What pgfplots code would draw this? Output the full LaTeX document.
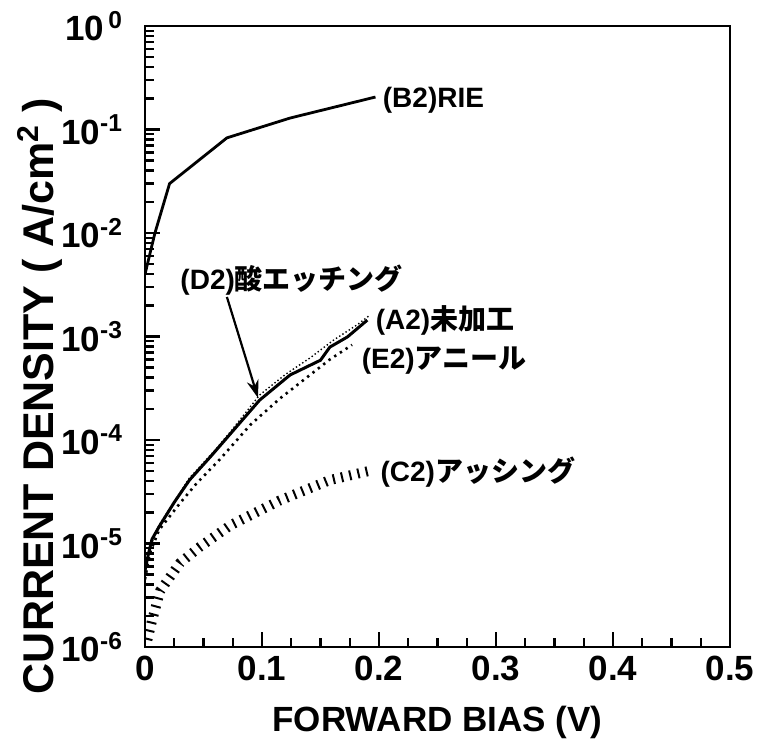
\documentclass[border=0pt]{standalone}
\usepackage{pgfplots}
\pgfplotsset{compat=1.18}
\usepackage{fontspec}
\setmainfont{Liberation Sans}
\newfontfamily\jp{Noto Sans CJK JP}
\usetikzlibrary{arrows.meta}
\begin{document}
\begin{tikzpicture}
\begin{axis}[
  name=ax, at={(0,0)}, anchor=south west,
  scale only axis, width=292.5pt, height=310.5pt,
  ymode=log, xmin=0, xmax=0.5, ymin=1e-6, ymax=1,
  xtick={0,0.1,0.2,0.3,0.4,0.5},
  xticklabels={0,0.1,0.2,0.3,0.4,0.5},
  minor x tick num=3,
  ytick={1e-6,1e-5,1e-4,1e-3,1e-2,1e-1,1},
  yticklabels={10\textsuperscript{-6},10\textsuperscript{-5},10\textsuperscript{-4},10\textsuperscript{-3},10\textsuperscript{-2},10\textsuperscript{-1},10\textsuperscript{\,0}},
  xtick pos=bottom, ytick pos=left, tick align=inside,
  major tick length=7.5pt, minor tick length=4.5pt,
  every tick/.style={line width=1.2pt, black},
  axis line style={line width=1.4pt},
  tick label style={font=\fontsize{17.5}{20}\selectfont\bfseries},
  yticklabel style={xshift=-7.5pt},
  xticklabel style={yshift=-1pt},
  xlabel={FORWARD BIAS (V)},
  ylabel={CURRENT DENSITY ( A/cm\textsuperscript{2} )},
  xlabel style={font=\fontsize{17.5}{20}\selectfont\bfseries, at={(axis description cs:0.5,-0.121)}, anchor=center},
  ylabel style={font=\fontsize{21.5}{24}\selectfont\bfseries, at={(axis description cs:-0.18,0.404)}, anchor=center},
]
% (B2) RIE
\addplot[black, line width=1.4pt] coordinates {
(0,4e-3) (0.0085,1e-2) (0.021,3.0e-2) (0.070,8.3e-2) (0.124,0.129) (0.197,0.206)};
% (A2)
\addplot[black, line width=1.5pt] coordinates {
(0,5.5e-6) (0.003,8e-6) (0.006,1.1e-5) (0.012,1.45e-5) (0.025,2.5e-5) (0.038,4.1e-5)
(0.056,6.9e-5) (0.081,1.46e-4) (0.098,2.43e-4) (0.124,4.25e-4) (0.150,5.9e-4)
(0.158,7.9e-4) (0.173,9.9e-4) (0.190,1.44e-3)};
% (D2)
\addplot[black, line width=0.7pt, dash pattern=on 0.7pt off 1.2pt] coordinates {
(0,5e-6) (0.004,9e-6) (0.012,1.5e-5) (0.038,4.3e-5) (0.060,8e-5) (0.073,1.2e-4)
(0.098,2.72e-4) (0.120,4.3e-4) (0.141,6.2e-4) (0.161,9.2e-4) (0.181,1.29e-3) (0.192,1.6e-3)};
% (E2)
\addplot[black, line width=1.3pt, dash pattern=on 1.2pt off 2.2pt] coordinates {
(0,4.5e-6) (0.004,8e-6) (0.012,1.35e-5) (0.030,2.46e-5) (0.044,3.8e-5) (0.064,6.5e-5)
(0.090,1.4e-4) (0.115,2.5e-4) (0.158,6.0e-4) (0.177,8.3e-4)};
% (C2)
\addplot[black, line width=5pt, dash pattern=on 1pt off 3.2pt] coordinates {
(0.002,1.17e-6) (0.006,1.8e-6) (0.013,3.5e-6) (0.030,6.5e-6) (0.047,9.3e-6)
(0.073,1.5e-5) (0.115,2.6e-5) (0.158,4.1e-5) (0.194,5.1e-5)};

\begin{scope}[every node/.style={anchor=west, inner sep=0pt, font=\fontsize{14}{16}\selectfont\bfseries}]
\node at (axis cs:0.203,0.193) {(B2)RIE};
\node at (axis cs:0.030,3.5e-3) {(D2){\jp\bfseries 酸エッチング}};
\node at (axis cs:0.197,1.44e-3) {(A2){\jp\bfseries 未加工}};
\node at (axis cs:0.185,5.9e-4) {(E2){\jp\bfseries アニール}};
\node at (axis cs:0.201,4.9e-5) {(C2){\jp\bfseries アッシング}};
\end{scope}
\draw[line width=1.1pt, -{Stealth[length=9pt, width=6pt]}] (axis cs:0.070,2.41e-3) -- (axis cs:0.0966,2.55e-4);
\end{axis}
\pgfresetboundingbox
\path (-72.5pt,-50.5pt) rectangle (307.5pt,323.5pt);
\end{tikzpicture}
\end{document}
